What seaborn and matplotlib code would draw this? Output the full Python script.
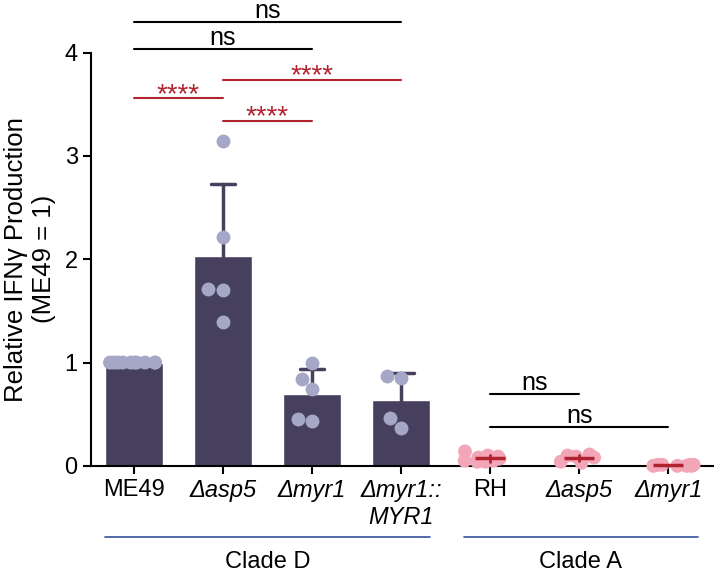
import pandas as pd
import numpy as np
import matplotlib.pyplot as plt
import seaborn as sns

# strains, in plotting order (keys are unique, labels are what is shown)
strain_keys = ["ME49", "asp5_D", "myr1_D", "myr1_MYR1", "RH", "asp5_A", "myr1_A"]
strain_labels = ["ME49", "Δasp5", "Δmyr1", "Δmyr1::\nMYR1", "RH", "Δasp5", "Δmyr1"]
italic_labels = [False, True, True, True, False, True, True]

# relative IFNg production (ME49 = 1)
me49 = [1.0, 1.0, 1.0, 1.0, 1.0, 1.0, 1.0, 1.0, 1.0, 1.0]
asp5_d = [3.15, 2.22, 1.70, 1.71, 1.39]
myr1_d = [1.00, 0.84, 0.74, 0.43, 0.45]
myr1_comp = [0.85, 0.87, 0.37, 0.46]
rh = [0.14, 0.10, 0.09, 0.08, 0.07, 0.06, 0.05, 0.05, 0.04, 0.04]
asp5_a = [0.10, 0.11, 0.09, 0.04, 0.03, 0.08]
myr1_a = [0.01, 0.0, 0.01, 0.0, 0.01, 0.0, 0.01, 0.0]

clade_d = ["ME49", "asp5_D", "myr1_D", "myr1_MYR1"]
clade_a = ["RH", "asp5_A", "myr1_A"]

# significance brackets: (start, end, label, height)
sig_black = [(0, 3, "ns", 4.30), (0, 2, "ns", 4.04), (4, 5, "ns", 0.70), (4, 6, "ns", 0.38)]
sig_red = [(0, 1, "****", 3.56), (1, 3, "****", 3.74), (1, 2, "****", 3.34)]

values = [me49, asp5_d, myr1_d, myr1_comp, rh, asp5_a, myr1_a]
rows = []
for key, vals in zip(strain_keys, values):
    for v in vals:
        rows.append({"strain": key, "value": v, "clade": "D" if key in clade_d else "A"})
df = pd.DataFrame(rows)
dfD = df[df["clade"] == "D"]
dfA = df[df["clade"] == "A"]
df_swarm = dfD[dfD["strain"] != "ME49"]
df_strip = df[(df["strain"] == "ME49") | (df["clade"] == "A")]

sns.set_style("ticks")
plt.rcParams["font.family"] = ["Liberation Sans", "DejaVu Sans"]
plt.rcParams["text.color"] = "black"
plt.rcParams["axes.labelcolor"] = "black"

bar_col = "#46405e"
pt_col = "#a4a7c5"
pink = "#f2a6b8"
red = "#b0232f"
blue = "#34509e"

np.random.seed(3)

fig = plt.figure(figsize=(7.16, 5.73), dpi=100)
ax = fig.add_axes([0.127, 0.187, 0.869, 0.721])

sns.barplot(data=dfD, x="strain", y="value", order=strain_keys, color=bar_col,
            saturation=1, width=0.65, errorbar="sd", capsize=0.28,
            err_kws={"color": bar_col, "linewidth": 2.5}, ax=ax)
sns.swarmplot(data=df_swarm, x="strain", y="value", order=strain_keys, color=pt_col,
              size=10, linewidth=0, clip_on=False, ax=ax)
sns.stripplot(data=df_strip, x="strain", y="value", order=strain_keys, hue="clade",
              palette={"D": pt_col, "A": pink}, jitter=0.3, size=10, linewidth=0,
              legend=False, clip_on=False, ax=ax)
n_before = len(ax.lines)
sns.pointplot(data=dfA, x="strain", y="value", order=strain_keys, color=red,
              linestyle="none", marker="_", markersize=21, markeredgewidth=2.5,
              errorbar="sd", err_kws={"linewidth": 2}, ax=ax)
for ln in ax.lines[n_before:]:
    ln.set_zorder(5)
    ln.set_clip_on(False)

ax.set_xlim(-0.483, 6.505)
ax.set_ylim(0, 4)
ax.set_yticks([0, 1, 2, 3, 4])
ax.set_xticks(range(len(strain_keys)))
ax.set_xticklabels(strain_labels)
for lab, it in zip(ax.get_xticklabels(), italic_labels):
    if it:
        lab.set_fontstyle("italic")
ax.tick_params(labelsize=17, width=1.5, length=6, colors="black")
ax.set_xlabel("")
ax.set_ylabel("Relative IFNγ Production\n(ME49 = 1)", fontsize=18.5, labelpad=6)
for s in ["left", "bottom"]:
    ax.spines[s].set_linewidth(1.5)
    ax.spines[s].set_color("black")
sns.despine(ax=ax)

def bracket(x1, x2, label, y, color):
    ax.plot([x1, x2], [y, y], color=color, lw=1.5, clip_on=False)
    if label == "ns":
        ax.text((x1 + x2) / 2, y + 0.035, label, ha="center", va="baseline",
                fontsize=18, color=color, clip_on=False)
    else:
        ax.text((x1 + x2) / 2, y - 0.035, label, ha="center", va="baseline",
                fontsize=20, color=color, clip_on=False)

for x1, x2, lab, y in sig_black:
    bracket(x1, x2, lab, y, "black")
for x1, x2, lab, y in sig_red:
    bracket(x1, x2, lab, y, red)

# clade groupings under the axis
for (x1, x2, name) in [(-0.33, 3.33, "Clade D"), (3.71, 6.33, "Clade A")]:
    ax.plot([x1, x2], [-0.686, -0.686], color=blue, lw=1.2, clip_on=False)
    ax.text((x1 + x2) / 2, -0.93, name, ha="center", va="center", fontsize=17,
            clip_on=False)

fig.savefig("out.png", dpi=100)
